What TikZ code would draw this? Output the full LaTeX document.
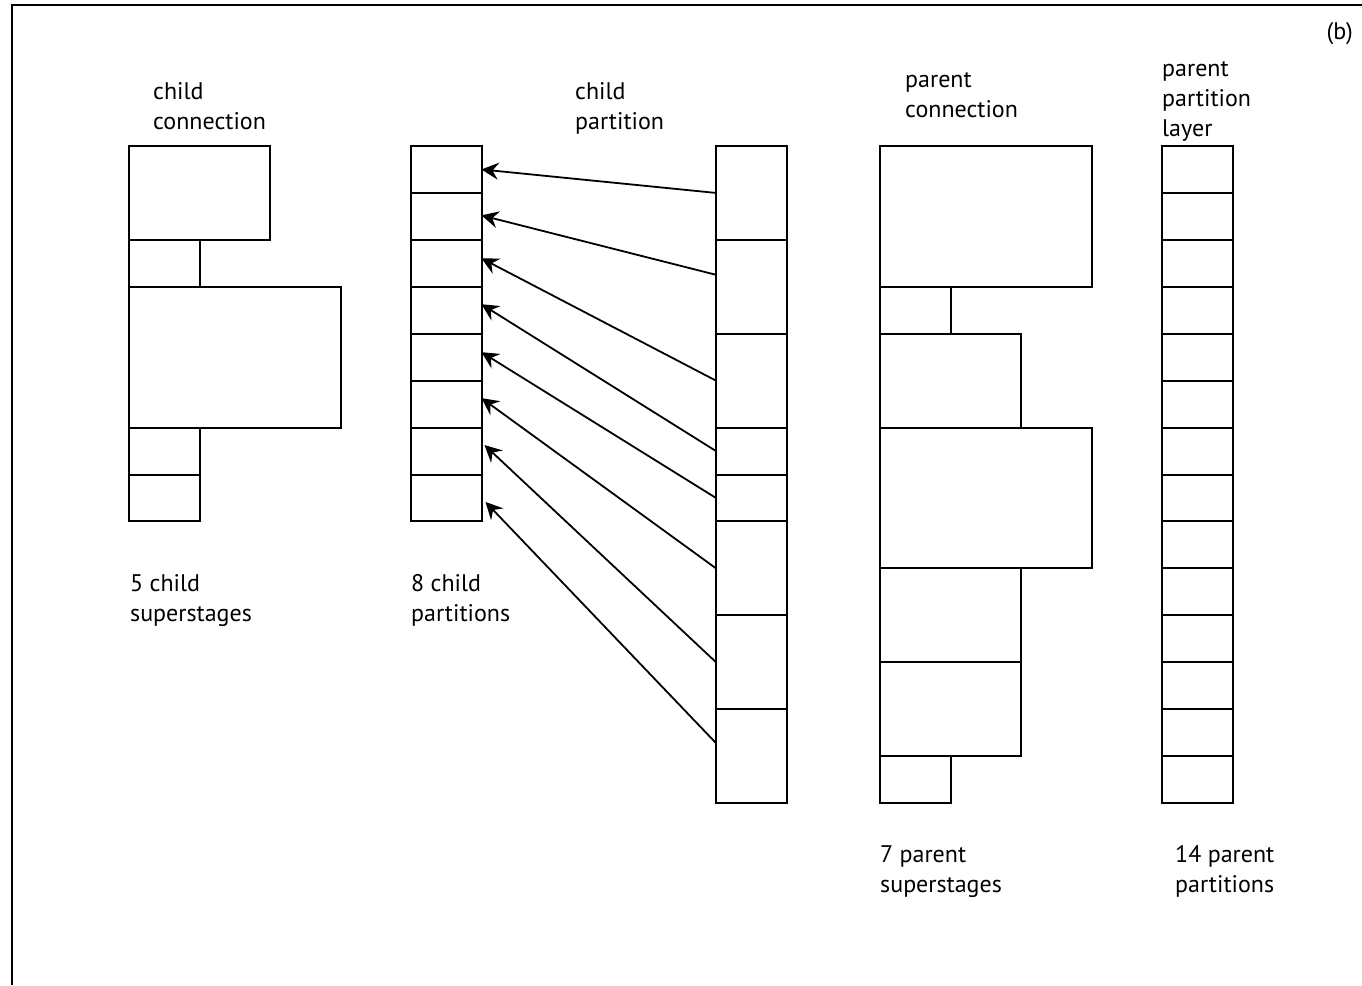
\documentclass[tikz,border=0pt]{standalone}
\usepackage{fontspec}
\setmainfont{PT Sans}
\usetikzlibrary{arrows.meta}
\tikzset{
  box/.style={draw, line width=2pt, inner sep=0pt, outer sep=0pt, anchor=north west, minimum width=70.5pt, minimum height=46.93pt},
  link/.style={line width=1.8pt, -{Stealth[length=17pt, width=17pt, inset=6pt]}},
  lbl/.style={inner sep=0pt, anchor=base west, align=left, font=\fontsize{24}{30}\selectfont},
  frame/.style={line width=2.6pt}
}
\begin{document}
\begin{tikzpicture}[x=1pt,y=-1pt]
\useasboundingbox (0,0) rectangle (1362,985);
\coordinate (fa) at (12,985);
\coordinate (fb) at (12,5);
\coordinate (fc) at (1362,5);
\draw[frame] (fa) -- (fb) -- (fc);

% child connection: 5 superstages
\node[box, minimum width=141pt, minimum height=93.86pt] (cc1) at (129,146) {};
\node[box] (cc2) at (129,239.86) {};
\node[box, minimum width=211.5pt, minimum height=140.79pt] (cc3) at (129,286.79) {};
\node[box] (cc4) at (129,427.58) {};
\node[box] (cc5) at (129,474.51) {};

% child partitions (left column)
\foreach \i in {1,...,8}
  \node[box] (cpL\i) at (411,{146+(\i-1)*46.93}) {};

% child partition (right column)
\node[box, minimum height=93.86pt] (cpR1) at (716,146) {};
\node[box, minimum height=93.86pt] (cpR2) at (716,239.86) {};
\node[box, minimum height=93.86pt] (cpR3) at (716,333.72) {};
\node[box] (cpR4) at (716,427.58) {};
\node[box] (cpR5) at (716,474.51) {};
\node[box, minimum height=93.86pt] (cpR6) at (716,521.44) {};
\node[box, minimum height=93.86pt] (cpR7) at (716,615.30) {};
\node[box, minimum height=93.86pt] (cpR8) at (716,709.16) {};

% parent connection: 7 superstages
\node[box, minimum width=211.5pt, minimum height=140.79pt] (pc1) at (880,146) {};
\node[box] (pc2) at (880,286.79) {};
\node[box, minimum width=141pt, minimum height=93.86pt] (pc3) at (880,333.72) {};
\node[box, minimum width=211.5pt, minimum height=140.79pt] (pc4) at (880,427.58) {};
\node[box, minimum width=141pt, minimum height=93.86pt] (pc5) at (880,568.37) {};
\node[box, minimum width=141pt, minimum height=93.86pt] (pc6) at (880,662.23) {};
\node[box] (pc7) at (880,756.09) {};

% parent partition layer
\foreach \i in {1,...,14}
  \node[box] (pp\i) at (1162,{146+(\i-1)*46.93}) {};

% arrows
\draw[link] (cpR1.west) -- (cpL1.east);
\draw[link] ([yshift=12pt]cpR2.west) -- ([yshift=1pt]cpL2.east);
\draw[link] (cpR3.west) -- ([yshift=5pt]cpL3.east);
\draw[link] (cpR4.west) -- ([yshift=6pt]cpL4.east);
\draw[link] (cpR5.west) -- ([yshift=5pt]cpL5.east);
\draw[link] (cpR6.west) -- ([yshift=6pt]cpL6.east);
\draw[link] (cpR7.west) -- ([xshift=3pt,yshift=6pt]cpL7.east);
\draw[link] ([yshift=13pt]cpR8.west) -- ([xshift=4pt,yshift=-4pt]cpL8.east);

% labels (anchor = baseline of the last line)
\node[lbl] (t1) at (153,129) {child\\connection};
\node[lbl] (t2) at (575,129) {child\\partition};
\node[lbl] (t3) at (905,117) {parent\\connection};
\node[lbl] (t4) at (1162,136) {parent\\partition\\layer};
\node[lbl, anchor=base east] (t5) at (1353,39) {(b)};
\node[lbl] (t6) at (130,621) {5 child\\superstages};
\node[lbl] (t7) at (411,621) {8 child\\partitions};
\node[lbl] (t8) at (880,892) {7 parent\\superstages};
\node[lbl] (t9) at (1175,892) {14 parent\\partitions};
\end{tikzpicture}
\end{document}
